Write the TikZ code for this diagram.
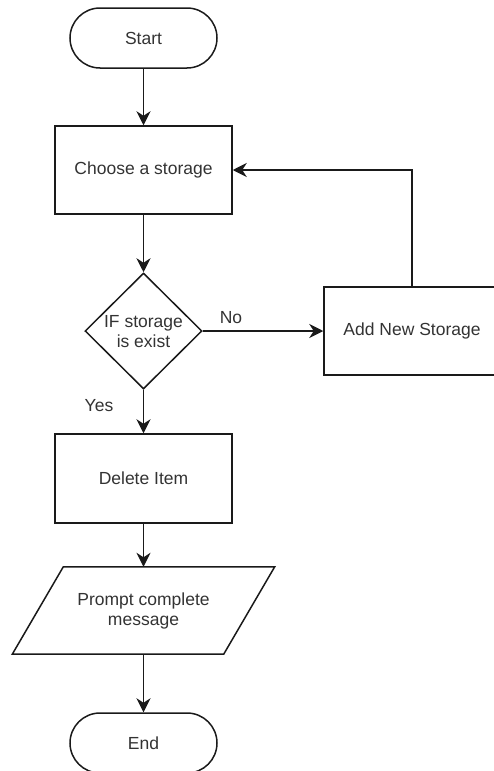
\documentclass[tikz,border=0pt]{standalone}
\usepackage{fontspec}
\setmainfont{Liberation Sans}
\usetikzlibrary{arrows.meta,shapes.geometric}
\definecolor{ink}{HTML}{1A1A1A}
\definecolor{txt}{HTML}{333333}
\begin{document}
\begin{tikzpicture}[x=1pt,y=-1pt,
  every node/.style={font=\fontsize{17.5}{20}\selectfont, text=txt},
  box/.style={draw=ink, line width=1.5pt, inner sep=0pt, align=center},
  terminal/.style={box, rounded corners=30pt, minimum width=147pt, minimum height=60pt},
  procbox/.style={box, minimum width=177pt, minimum height=88pt},
  flow/.style={draw=ink, line width=1.5pt, -{Stealth[length=14pt,width=14pt,inset=4.5pt]}},
  lbl/.style={inner sep=0pt}
]
\useasboundingbox (0,0) rectangle (493,771);

% shapes
\node[terminal] (start) at (143.5,38) {Start};
\node[procbox] (choose) at (143.5,170) {Choose a storage};
\node[box, diamond, aspect=1, minimum width=117pt, minimum height=116pt] (dec) at (143.5,331) {};
\node[align=center, inner sep=0pt] (dectext) at (143.5,332) {IF storage\\is exist};
\node[procbox, minimum width=176pt] (add) at (412,331) {Add New Storage};
\node[procbox, minimum height=89pt] (delete) at (143.5,478.5) {Delete Item};
% output parallelogram: the node holds the text, the outline is drawn around it
\node[align=center, inner sep=0pt, minimum width=211pt, minimum height=87pt] (prompt) at (143.5,610.5) {Prompt complete\\message};
\draw[draw=ink, line width=1.5pt, line join=miter]
  ([xshift=25.5pt]prompt.north west) -- ([xshift=25.5pt]prompt.north east)
  -- ([xshift=-25.5pt]prompt.south east) -- ([xshift=-25.5pt]prompt.south west) -- cycle;
\node[terminal] (end) at (143.5,743) {End};

% connectors
\draw[flow] (start) -- (choose);
\draw[flow] (choose) -- (dec);
\draw[flow] (dec.south) -- (delete.north);
\draw[flow] (dec.east) -- (add.west);
\draw[flow] (add.north) |- (choose.east);
\draw[flow] (delete) -- (prompt);
\draw[flow] (prompt.south) -- (end.north);

% branch labels
\node[lbl] (no) at (231,318) {No};
\node[lbl] (yes) at (99,406) {Yes};
\end{tikzpicture}
\end{document}
